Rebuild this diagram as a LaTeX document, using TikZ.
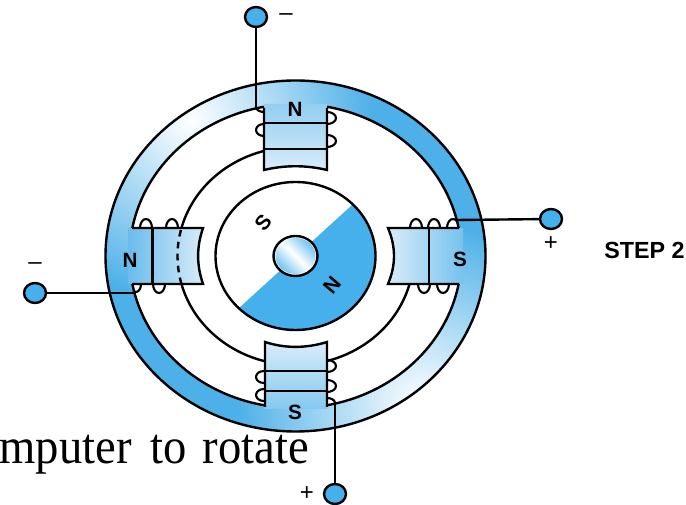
\documentclass[tikz,border=0pt]{standalone}
\usepackage{graphicx}
\usepackage{fontspec}
\setmainfont{Liberation Sans}
\newfontfamily\bookfont{Liberation Serif}
\usetikzlibrary{positioning, calc, shapes.geometric}
\definecolor{yokeblue}{HTML}{4DB0E8}
\definecolor{rotorblue}{HTML}{45B0EC}
\definecolor{polepale}{HTML}{D8ECFA}

\begin{document}
\begin{tikzpicture}[x=0.75pt, y=-0.75pt, line width=1.8pt,
      terminal/.style={ellipse, draw, fill=rotorblue, minimum width=16.5pt, minimum height=15pt, inner sep=0pt},
      pole/.style={font=\fontsize{15.5}{15.5}\selectfont\bfseries, inner sep=0pt},
      sign/.style={font=\fontsize{18}{18}\selectfont, inner sep=0pt},
      loopwire/.style={draw, line width=1.6pt}
    ]
      \useasboundingbox (0,0) rectangle (686,505);
      \coordinate (C) at (295.5,256);

      % coil loops, the poles cover their inner half
      \foreach \py in {130,377,395} \path[loopwire] (264,\py) ellipse [x radius=8, y radius=6];
      \foreach \py in {118,141,366,386} \path[loopwire] (327,\py) ellipse [x radius=9, y radius=6];
      \foreach \px in {146,172,416,434,453} \path[loopwire] (\px,228) ellipse [x radius=6, y radius=9];
      \foreach \px in {159,424,443} \path[loopwire] (\px,284) ellipse [x radius=6, y radius=9];
      \path[loopwire] (264,107) ellipse [x radius=8, y radius=5];
      \path[loopwire] (327,403) ellipse [x radius=8, y radius=5];
      \path[loopwire] (136,284) ellipse [x radius=5, y radius=8];

      % yoke
      \begin{scope}[even odd rule]
        \clip (C) ellipse [x radius=190, y radius=175.5] (C) ellipse [x radius=166, y radius=152];
        \fill[yokeblue] (90,70) rectangle (500,440);
        \shade[inner color=white, outer color=yokeblue] (190,120) circle [radius=183];
        \shade[inner color=white, outer color=yokeblue] (420,405) circle [radius=183];
      \end{scope}

      % pole bodies
      \shade[bottom color=polepale, top color=polepale!50!yokeblue] (264,170) .. controls (285,165) and (306,165) .. (327,170) -- (327,104) -- (264,104) -- cycle;
      \shade[bottom color=polepale!40!yokeblue, top color=polepale] (264,342) .. controls (285,348.5) and (306,348.5) .. (327,342) -- (327,409) -- (264,409) -- cycle;
      \shade[left color=polepale!20!yokeblue, right color=polepale] (203,228) .. controls (196.5,247) and (196.5,265) .. (203,284) -- (128,284) -- (128,228) -- cycle;
      \shade[right color=polepale!30!yokeblue, left color=polepale] (388,228) .. controls (396,247) and (396,265) .. (388,284) -- (463,284) -- (463,228) -- cycle;

      % outlines
      \draw (C) ellipse [x radius=190, y radius=175.5];
      \draw ($(C)+(-79:166 and 152)$) arc [start angle=-79, end angle=-10.6, x radius=166, y radius=152];
      \draw ($(C)+(10.6:166 and 152)$) arc [start angle=10.6, end angle=79, x radius=166, y radius=152];
      \draw ($(C)+(101:166 and 152)$) arc [start angle=101, end angle=169.4, x radius=166, y radius=152];
      \draw ($(C)+(190.6:166 and 152)$) arc [start angle=190.6, end angle=259, x radius=166, y radius=152];

      \draw (264,108) -- (264,170) .. controls (285,165) and (306,165) .. (327,170) -- (327,108);
      \draw (265,407) -- (265,342) .. controls (285,348.5) and (306,348.5) .. (327,342) -- (327,407);
      \draw (132,228) -- (203,228) .. controls (196.5,247) and (196.5,265) .. (203,284) -- (132,284);
      \draw (459,228) -- (388,228) .. controls (396,247) and (396,265) .. (388,284) -- (459,284);
      \draw (264,123) -- (327,123);
      \draw (264,149) -- (327,149);
      \draw (265,371) -- (327,371);
      \draw (265,391) -- (327,391);
      \draw (152.5,228) -- (152.5,284);
      \draw (429,228) -- (429,284);

      % coil return arcs
      \draw ($(C)+(194.9:118 and 109)$) arc [start angle=194.9, end angle=254.5, x radius=118, y radius=109];
      \draw ($(C)+(105.5:118 and 109)$) arc [start angle=105.5, end angle=165.1, x radius=118, y radius=109];
      \draw ($(C)+(14.9:118 and 109)$) arc [start angle=14.9, end angle=74.5, x radius=118, y radius=109];
      \draw[dashed, dash pattern=on 5pt off 4pt] ($(C)+(165.1:118 and 109)$) arc [start angle=165.1, end angle=194.9, x radius=118, y radius=109];

      % rotor
      \fill[white] (C) ellipse [x radius=80, y radius=74];
      \begin{scope}
        \clip (C) ellipse [x radius=80, y radius=74];
        \fill[rotorblue] (385,175) -- (205,339) -- (385,345) -- cycle;
      \end{scope}
      \draw (C) ellipse [x radius=80, y radius=74];
      \fill[white] (C) ellipse [x radius=22, y radius=20];
      \shade[bottom color=rotorblue!75!white, top color=rotorblue!75!white, middle color=white, shading angle=-45] (C) ellipse [x radius=20, y radius=18];
      \draw (C) ellipse [x radius=22, y radius=20];

      % labels
      \node[pole] (polet) at (295,109) {N};
      \node[pole] (polel) at (130,260) {N};
      \node[pole] (poler) at (460,259) {S};
      \node[pole] (poleb) at (295,412) {S};
      \node[pole, rotate=50] (rotors) at (263,223) {S};
      \node[pole, rotate=50] (rotorn) at (332,285) {N};

      % terminals and wires
      \node[terminal] (termt) at (256,17) {};
      \node[terminal] (termr) at (551,219) {};
      \node[terminal] (termb) at (335,494) {};
      \node[terminal] (terml) at (35,293) {};
      \coordinate (endt) at (256,108);
      \coordinate (endr) at (457,220);
      \coordinate (endb) at (335,404);
      \coordinate (endl) at (135,293);
      \draw (termt) -- (endt);
      \draw (termr) -- (endr);
      \draw (termb) -- (endb);
      \draw (terml) -- (endl);

      \node[sign] (signt) at (286,17) {–};
      \node[sign] (signr) at (551,244) {+};
      \node[sign] (signb) at (307,494) {+};
      \node[sign] (signl) at (35,266) {–};

      \node[font=\fontsize{17.5}{17.5}\selectfont\bfseries, inner sep=0pt] (steplabel) at (644.5,250) {STEP 2};
      \node[anchor=base east, inner sep=0pt, font=\bookfont\fontsize{35}{35}\selectfont] (booktext) at (310,464) {\scalebox{1}[1.08]{mputer\hspace{14pt}to\hspace{12pt}rotate}};
    \end{tikzpicture}
\end{document}
